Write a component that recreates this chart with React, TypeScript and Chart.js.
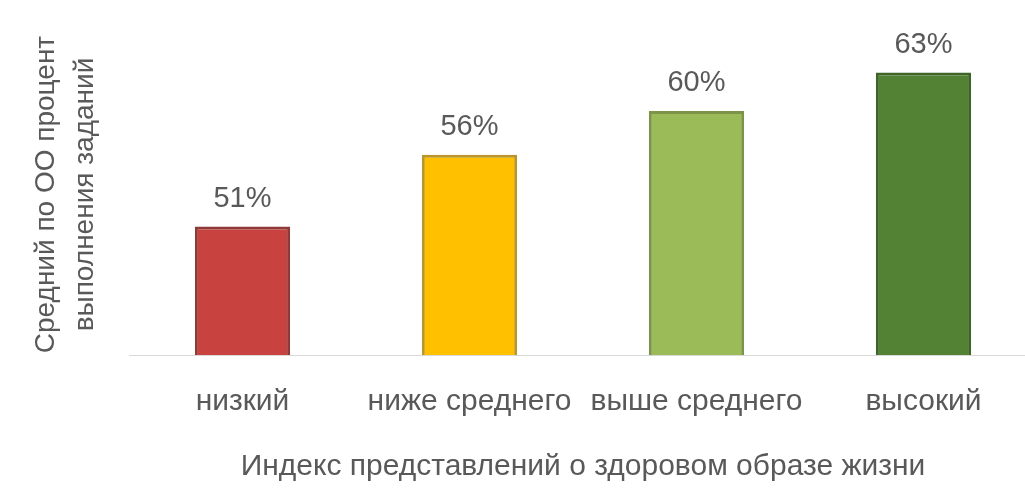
import React, { useEffect, useRef } from "react";
import { Chart, registerables } from "chart.js";

Chart.register(...registerables);

const categories = ["низкий", "ниже среднего", "выше среднего", "высокий"];
const values = [51, 56.6, 60, 63];
const valueLabels = ["51%", "56%", "60%", "63%"];
const fillColors = ["#C8423F", "#FFC000", "#9BBB59", "#548235"];
const borderColors = ["#8E3A38", "#B8962A", "#7C9447", "#3E6428"];
const yTitle = ["Средний по ОО процент", "выполнения заданий"];
const xTitle = "Индекс представлений о здоровом образе жизни";

const FONT = "'Liberation Sans', Arial, sans-serif";
const TEXT = "#595959";

const labelPlugin = {
  id: "valueLabels",
  afterDatasetsDraw(chart: any) {
    const ctx = chart.ctx;
    const meta = chart.getDatasetMeta(0);
    ctx.save();
    ctx.font = `29px ${FONT}`;
    ctx.fillStyle = TEXT;
    ctx.textAlign = "center";
    ctx.textBaseline = "middle";
    meta.data.forEach((el: any, i: number) => {
      ctx.fillText(valueLabels[i], el.x, el.y - 28);
    });
    ctx.restore();
  },
};

export default function App() {
  const ref = useRef<HTMLCanvasElement | null>(null);
  useEffect(() => {
    document.body.style.margin = "0";
    if (!ref.current) return;
    const chart = new Chart(ref.current, {
      type: "bar",
      data: {
        labels: categories,
        datasets: [
          {
            data: values,
            backgroundColor: fillColors,
            borderColor: borderColors,
            borderWidth: 3,
            borderSkipped: false,
            categoryPercentage: 1,
            barPercentage: 0.42,
          },
        ],
      },
      options: {
        animation: false,
        responsive: true,
        maintainAspectRatio: false,
        layout: { padding: { top: 34, right: 8, bottom: 19, left: 0 } },
        plugins: {
          legend: { display: false },
          tooltip: { enabled: false },
        },
        scales: {
          x: {
            grid: { display: false },
            border: { display: true, color: "#D9D9D9", width: 1 },
            ticks: {
              color: TEXT,
              font: { family: FONT, size: 30 },
              padding: 21,
              maxRotation: 0,
              minRotation: 0,
              autoSkip: false,
            },
            title: {
              display: true,
              text: xTitle,
              color: TEXT,
              font: { family: FONT, size: 30 },
              padding: { top: 0, bottom: 0 },
            },
            afterFit(scale: any) {
              scale.height = 130;
            },
          },
          y: {
            min: 41,
            max: 66,
            grid: { display: false },
            border: { display: false },
            ticks: { display: false },
            title: {
              display: true,
              text: yTitle,
              color: TEXT,
              font: { family: FONT, size: 28, lineHeight: 1.39 },
              padding: { top: 27, bottom: 0 },
            },
            afterFit(scale: any) {
              scale.width = 129;
            },
          },
        },
      },
      plugins: [labelPlugin],
    });
    return () => chart.destroy();
  }, []);
  return (
    <div style={{ width: 1025, height: 504, overflow: "hidden", background: "#fff" }}>
      <div style={{ width: 1045, height: 504 }}>
        <canvas ref={ref} />
      </div>
    </div>
  );
}
